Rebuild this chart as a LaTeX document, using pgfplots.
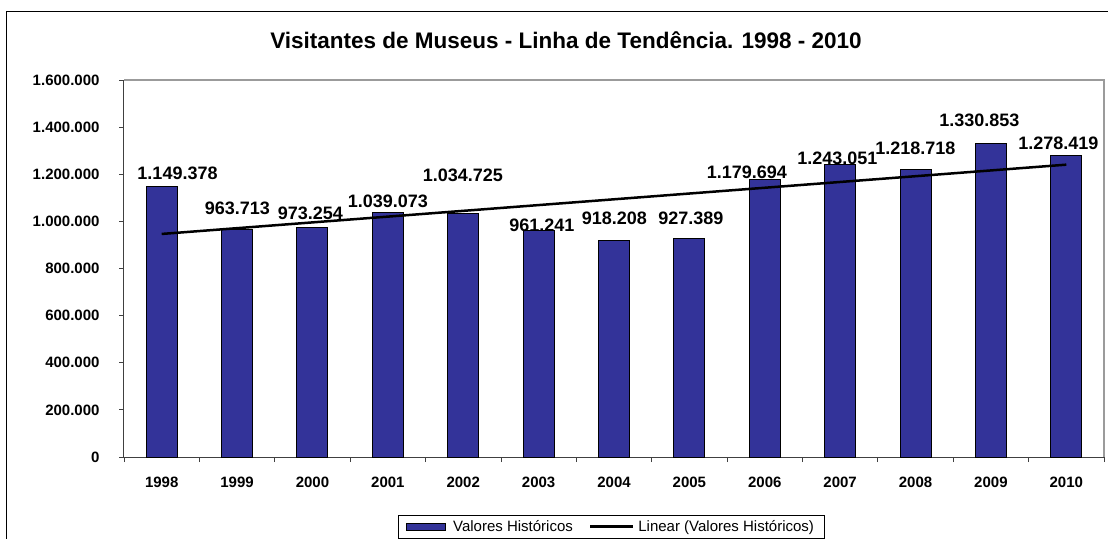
\documentclass[border=0pt]{standalone}
\usepackage{pgfplots}
\pgfplotsset{compat=1.18}
\usetikzlibrary{calc}
\usepackage{fontspec}
\setmainfont{Liberation Sans}
\definecolor{barblue}{RGB}{51,51,153}
\definecolor{framegray}{RGB}{155,155,155}
\begin{document}
\begin{tikzpicture}
\begin{axis}[
  name=ax,
  scale only axis,
  width=980bp, height=377bp,
  xmin=-0.5, xmax=12.5,
  ymin=0, ymax=1600000,
  axis lines*=left,
  axis line style={black!75, line width=1bp},
  xtick={-0.5,0.5,...,12.5},
  x tick label as interval,
  xticklabels={1998,1999,2000,2001,2002,2003,2004,2005,2006,2007,2008,2009,2010},
  ytick={0,200000,...,1600000},
  scaled y ticks=false,
  tick align=outside,
  major tick length=5bp,
  tick style={black!75, line width=0.8bp},
  /pgf/number format/.cd, fixed, 1000 sep={.}, assume math mode=true,
  /pgfplots/.cd,
  ticklabel style={font=\fontsize{15bp}{18bp}\selectfont\bfseries},
  xticklabel style={yshift=-12bp},
  yticklabel style={xshift=-16bp},
  title={Visitantes de Museus - Linha de Tendência. 1998 - 2010},
  title style={at={(0.451,1)}, anchor=base, yshift=26bp, font=\fontsize{22.5bp}{26bp}\selectfont\bfseries},
  legend style={at={(0.497,-0.154)}, anchor=north, draw=black, line width=0.8bp,
    font=\fontsize{15bp}{18bp}\selectfont, legend columns=2,
    inner xsep=8bp, inner ysep=3bp,
    /tikz/every even column/.append style={column sep=14bp}},
  clip=false,
]
\addplot[ybar, bar width=31bp, fill=barblue, draw=black, line width=1bp,
  legend image code/.code={\draw[fill=barblue, draw=black, line width=1bp] (0bp,-3.5bp) rectangle (39bp,3.5bp); \path (44bp,0bp);}]
  coordinates {
  (0,1149378) (1,963713) (2,973254) (3,1039073) (4,1034725) (5,961241) (6,918208)
  (7,927389) (8,1179694) (9,1243051) (10,1218718) (11,1330853) (12,1278419)
  };
\addlegendentry{Valores Históricos}
\addplot[black, line width=2.5bp, mark=none,
  legend image code/.code={\draw[black, line width=2.5bp] (0bp,0bp) -- (43bp,0bp); \path (45bp,0bp);}]
  coordinates {(0,946643.5) (12,1240697.5)};
\addlegendentry{Linear (Valores Históricos)}
\addplot[draw=none, mark=none, forget plot, nodes near coords, point meta=explicit symbolic,
  every node near coord/.append style={anchor=center, inner sep=0pt, font=\fontsize{18bp}{21bp}\selectfont\bfseries}]
  table[meta=label] {
x y label
0.21 1205300 1.149.378
1.005 1056800 963.713
1.973 1035500 973.254
3.001 1086500 1.039.073
3.996 1196800 1.034.725
5.044 984600 961.241
6.005 1014300 918.208
7.02 1014300 927.389
7.763 1209500 1.179.694
8.963 1269000 1.243.051
9.997 1311400 1.218.718
10.846 1430200 1.330.853
11.894 1332600 1.278.419
};
\end{axis}
\draw[framegray, line width=1.5bp] (ax.north west) -- (ax.north east) -- (ax.south east);
\draw[black, line width=1bp] ($(ax.south west)+(-117bp,-90bp)$) |- ($(ax.south west)+(990bp,445bp)$);
\pgfresetboundingbox
\useasboundingbox ($(ax.south west)+(-124bp,-82bp)$) rectangle ($(ax.south west)+(984bp,457bp)$);
\end{tikzpicture}
\end{document}
